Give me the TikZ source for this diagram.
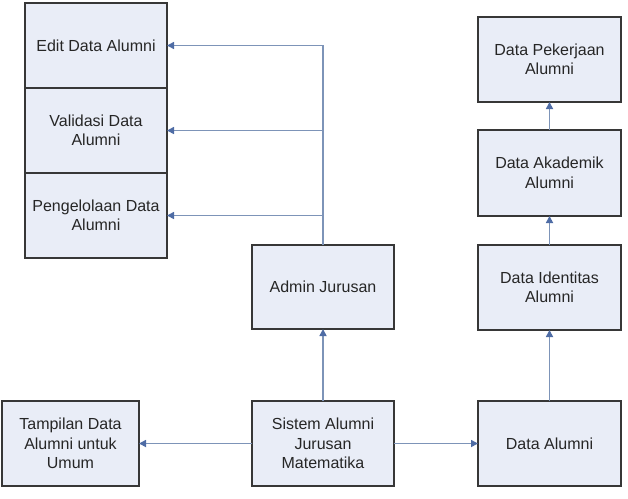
\documentclass[tikz,border=0pt]{standalone}
\usepackage{fontspec}
\setmainfont{Liberation Sans}
\usetikzlibrary{arrows.meta}
\definecolor{boxfill}{RGB}{233,237,247}
\definecolor{boxline}{RGB}{55,55,55}
\definecolor{arrowc}{RGB}{125,148,184}
\definecolor{tipc}{RGB}{78,108,165}
\begin{document}
\begin{tikzpicture}[x=1pt,y=-1pt,
  box/.style={draw=boxline, line width=1.5pt, fill=boxfill, align=center,
    inner sep=0pt, outer sep=0pt, font=\fontsize{16}{19.5}\selectfont, text=black!85},
  conn/.style={draw=arrowc, line width=1.6pt, -{Triangle[length=7pt,width=7pt,color=tipc]}}]
\useasboundingbox (0,0) rectangle (628,498);
\node[box, minimum width=142pt, minimum height=85pt] (edit) at (96,45.5) {Edit Data Alumni};
\node[box, minimum width=142pt, minimum height=85pt] (valid) at (96,130.5) {Validasi Data\\Alumni};
\node[box, minimum width=142pt, minimum height=85pt] (peng) at (96,215.5) {Pengelolaan Data\\Alumni};
\node[box, minimum width=142pt, minimum height=84pt] (admin) at (323,287) {Admin Jurusan};
\node[box, minimum width=142pt, minimum height=85pt] (sistem) at (323,443.5) {Sistem Alumni\\Jurusan\\Matematika};
\node[box, minimum width=137pt, minimum height=85pt] (tampil) at (70.5,443.5) {Tampilan Data\\Alumni untuk\\Umum};
\node[box, minimum width=143pt, minimum height=85pt] (dalumni) at (549.5,443.5) {Data Alumni};
\node[box, minimum width=143pt, minimum height=85pt] (ident) at (549.5,287.5) {Data Identitas\\Alumni};
\node[box, minimum width=143pt, minimum height=86pt] (akad) at (549.5,173) {Data Akademik\\Alumni};
\node[box, minimum width=143pt, minimum height=85pt] (pekerj) at (549.5,59.5) {Data Pekerjaan\\Alumni};
\draw[conn] (admin.north) |- (edit.east);
\draw[conn] (admin.north) |- (valid.east);
\draw[conn] (admin.north) |- (peng.east);
\draw[conn] (sistem.north) -- (admin.south);
\draw[conn] (sistem.west) -- (tampil.east);
\draw[conn] (sistem.east) -- (dalumni.west);
\draw[conn] (dalumni.north) -- (ident.south);
\draw[conn] (ident.north) -- (akad.south);
\draw[conn] (akad.north) -- (pekerj.south);
\end{tikzpicture}
\end{document}
